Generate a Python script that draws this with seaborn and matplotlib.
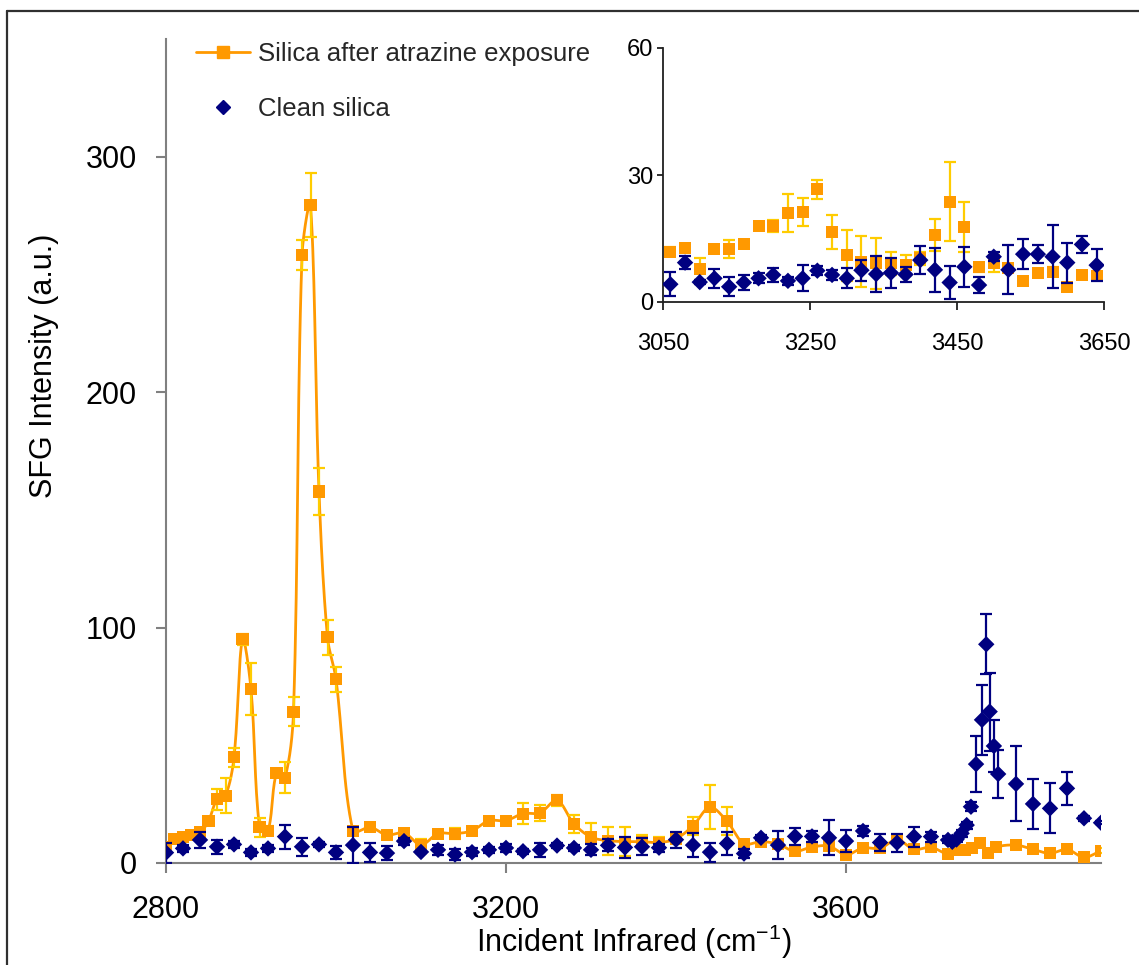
import numpy as np
import pandas as pd
import matplotlib
matplotlib.use("Agg")
import matplotlib.pyplot as plt
import seaborn as sns
from matplotlib.lines import Line2D

sns.set_theme(style="white")
plt.rcParams['font.family'] = ['Liberation Sans', 'DejaVu Sans']
plt.rcParams['mathtext.default'] = 'regular'

# ---- Silica after atrazine exposure ----
atz_wn = [2800, 2810, 2820, 2830, 2840, 2850, 2860, 2870, 2880, 2890, 2900,
          2910, 2920, 2930, 2940, 2950, 2960, 2970, 2980, 2990, 3000,
          3020, 3040, 3060, 3080, 3100, 3120, 3140, 3160, 3180, 3200,
          3220, 3240, 3260, 3280, 3300, 3320, 3340, 3360, 3380, 3400,
          3420, 3440, 3460, 3480, 3500, 3520, 3540, 3560, 3580, 3600,
          3620, 3640, 3660, 3680, 3700, 3720, 3730, 3740, 3748, 3758,
          3767, 3777, 3800, 3820, 3840, 3860, 3880, 3900]
atz_int = [6.9, 10.0, 10.9, 12.0, 13.0, 17.8, 27.0, 28.6, 44.9, 95.0, 73.8,
           15.2, 13.7, 38.1, 36.3, 64.3, 258.1, 279.4, 157.8, 95.8, 78.0,
           13.6, 15.2, 11.9, 12.8, 7.7, 12.5, 12.5, 13.7, 18.0, 18.0,
           21.0, 21.3, 26.6, 16.6, 11.0, 9.5, 9.1, 9.1, 8.7, 10.3,
           15.8, 23.7, 17.7, 8.2, 9.1, 8.0, 5.0, 6.8, 7.2, 3.5,
           6.4, 6.2, 10.0, 5.8, 6.7, 3.8, 5.5, 5.5, 6.2, 8.6,
           4.2, 6.8, 7.6, 5.8, 4.1, 5.8, 2.4, 5.2]
atz_err = [1.0, 1.0, 0.8, 0.8, 1.0, 1.2, 4.5, 7.5, 4.1, 2.2, 11.1,
           4.1, 2.0, 1.5, 6.7, 6.0, 6.4, 13.6, 9.8, 7.3, 5.2,
           1.5, 1.5, 1.0, 1.0, 2.6, 0.8, 2.2, 1.0, 0.6, 1.4,
           4.5, 3.3, 2.2, 4.0, 6.0, 6.0, 6.0, 2.8, 2.4, 1.5,
           3.8, 9.4, 5.9, 1.0, 2.0, 1.0, 0.7, 1.0, 1.0, 0.8,
           0.8, 1.0, 1.0, 1.0, 1.0, 1.0, 1.0, 1.0, 1.0, 1.0,
           1.0, 1.0, 1.0, 1.0, 0.8, 1.0, 0.8, 1.0]

# ---- Clean silica ----
cln_wn = [2800, 2820, 2840, 2860, 2880, 2900, 2920, 2940, 2960, 2980, 3000,
          3020, 3040, 3060, 3080, 3100, 3120, 3140, 3160, 3180, 3200,
          3220, 3240, 3260, 3280, 3300, 3320, 3340, 3360, 3380, 3400,
          3420, 3440, 3460, 3480, 3500, 3520, 3540, 3560, 3580, 3600,
          3620, 3640, 3660, 3680, 3700,
          3720, 3725, 3730, 3736, 3742, 3747, 3753, 3760, 3765, 3769,
          3774, 3779, 3800, 3820, 3840, 3860, 3880, 3900]
cln_int = [4.4, 6.2, 9.8, 6.9, 7.9, 4.5, 6.2, 11.2, 6.9, 7.9, 4.5,
           7.6, 4.5, 4.2, 9.3, 4.7, 5.6, 3.6, 4.6, 5.6, 6.4,
           5.0, 5.6, 7.4, 6.4, 5.6, 7.5, 6.6, 6.9, 6.5, 9.9,
           7.6, 4.6, 8.3, 4.0, 10.7, 7.6, 11.3, 11.3, 10.7, 9.3,
           13.6, 8.7, 8.6, 11.2, 11.2,
           9.8, 9.0, 10.0, 12.6, 16.1, 23.9, 42.0, 60.8, 92.9, 64.3,
           49.7, 37.8, 33.6, 25.1, 23.2, 31.7, 19.0, 17.1]
cln_err = [4.3, 1.5, 3.4, 3.0, 1.5, 1.5, 1.5, 5.1, 3.9, 1.0, 2.8,
           7.5, 3.9, 2.9, 1.5, 0.5, 2.2, 2.2, 1.7, 1.2, 1.7,
           1.0, 3.1, 1.0, 1.2, 2.4, 2.5, 4.3, 3.6, 1.7, 3.4,
           5.2, 4.0, 4.8, 1.8, 1.1, 5.8, 3.5, 2.2, 7.5, 4.7,
           2.1, 3.8, 3.8, 4.2, 2.1,
           1.5, 1.2, 1.2, 1.5, 1.5, 2.0, 11.9, 15.0, 12.7, 16.6,
           11.0, 10.4, 15.9, 10.7, 10.6, 7.1, 1.0, 0.6]

atz_label = "Silica after atrazine exposure"
cln_label = "Clean silica"

ORANGE = "#FF9900"
GOLD = "#FFCC00"
NAVY = "#000080"
AXIS_GREY = "#808080"

atz = pd.DataFrame({"wn": atz_wn, "I": atz_int, "err": atz_err})
cln = pd.DataFrame({"wn": cln_wn, "I": cln_int, "err": cln_err})

W, H = 1139, 965
fig = plt.figure(figsize=(W / 100, H / 100), dpi=100)


def fx(px):
    return px / W


def fy(py):
    return 1 - py / H


def smoothed(xs, ys, kx, ky, n=16):
    """Bezier-smoothed curve through the points; control arms are scaled by
    the on-screen segment lengths (kx, ky = pixels per data unit)."""
    x = np.asarray(xs, float) * kx
    y = np.asarray(ys, float) * ky
    px = np.concatenate([[x[0]], x, [x[-1]]])
    py = np.concatenate([[y[0]], y, [y[-1]]])
    seg = np.hypot(np.diff(px), np.diff(py))
    t = np.linspace(0, 1, n + 1)[1:]
    ox, oy = [x[0]], [y[0]]
    for i in range(len(x) - 1):
        j = i + 1
        tx1, ty1 = px[j + 1] - px[j - 1], py[j + 1] - py[j - 1]
        tx2, ty2 = px[j + 2] - px[j], py[j + 2] - py[j]
        L0, L1, L2 = seg[j - 1], seg[j], seg[j + 1]
        f1 = L1 / (L0 + L1) / 3 if (L0 + L1) > 0 else 0
        f2 = L1 / (L1 + L2) / 3 if (L1 + L2) > 0 else 0
        x1, y1, x2, y2 = px[j], py[j], px[j + 1], py[j + 1]
        cx1, cy1 = x1 + tx1 * f1, y1 + ty1 * f1
        cx2, cy2 = x2 - tx2 * f2, y2 - ty2 * f2
        a, b, c, d = (1 - t) ** 3, 3 * (1 - t) ** 2 * t, 3 * (1 - t) * t ** 2, t ** 3
        ox.extend(a * x1 + b * cx1 + c * cx2 + d * x2)
        oy.extend(a * y1 + b * cy1 + c * cy2 + d * y2)
    return np.array(ox) / kx, np.array(oy) / ky


# outer chart frame (left and top edges)
fig.add_artist(Line2D([fx(7), fx(7)], [fy(11), 0], transform=fig.transFigure,
                      color="#303030", lw=1.6))
fig.add_artist(Line2D([fx(7), 1], [fy(11), fy(11)], transform=fig.transFigure,
                      color="#303030", lw=1.6))

# ---------------- main axes ----------------
ax = fig.add_axes([fx(166), fy(863), fx(1101) - fx(166), fy(39) - fy(863)])
ax.set_facecolor("none")
XMIN, XMAX, YMIN, YMAX = 2800, 3900, 0, 350
kx = (1101 - 166) / (XMAX - XMIN)
ky = (863 - 39) / (YMAX - YMIN)

sx, sy = smoothed(atz["wn"], atz["I"], kx, ky)
sns.lineplot(x=sx, y=sy, sort=False, estimator=None, color=ORANGE, lw=2.0,
             ax=ax, zorder=2, legend=False)
ax.errorbar(atz["wn"], atz["I"], yerr=atz["err"], fmt="none", ecolor=GOLD,
            elinewidth=1.6, capsize=4.5, capthick=1.6, zorder=2.5)
sns.scatterplot(data=atz, x="wn", y="I", marker="s", s=75, color=ORANGE,
                edgecolor="none", ax=ax, zorder=3, legend=False)

ax.errorbar(cln["wn"], cln["I"], yerr=cln["err"], fmt="none", ecolor=NAVY,
            elinewidth=1.6, capsize=4.5, capthick=1.6, zorder=4)
sns.scatterplot(data=cln, x="wn", y="I", marker="D", s=70, color=NAVY,
                edgecolor="none", ax=ax, zorder=5, legend=False)

ax.set_xlim(XMIN, XMAX)
ax.set_ylim(YMIN, YMAX)
ax.set_xticks([2800, 3200, 3600])
ax.set_yticks([0, 100, 200, 300])
for side in ("top", "right"):
    ax.spines[side].set_visible(False)
for side in ("left", "bottom"):
    ax.spines[side].set_color(AXIS_GREY)
    ax.spines[side].set_linewidth(1.5)
ax.tick_params(axis="both", which="major", direction="out", length=7,
               width=1.5, color=AXIS_GREY, labelsize=22, labelcolor="black")
ax.tick_params(axis="x", pad=16, bottom=True)
ax.tick_params(axis="y", pad=14, left=True)

ax.set_xlabel("Incident Infrared (cm$^{-1}$)", fontsize=22, color="black")
ax.set_ylabel("SFG Intensity (a.u.)", fontsize=22, color="black")
ax.xaxis.set_label_coords(0.5, -0.073)
ax.xaxis.label.set_va("top")
ax.yaxis.set_label_coords(-0.114, 0.603)

handles = [
    Line2D([], [], color=ORANGE, lw=2.0, marker="s", markersize=8.5,
           markeredgecolor=ORANGE),
    Line2D([], [], color=NAVY, lw=0, marker="D", markersize=7,
           markeredgecolor=NAVY),
]
fig.legend(handles, [atz_label, cln_label], loc="upper left",
           bbox_to_anchor=(fx(196), fy(42)), bbox_transform=fig.transFigure,
           frameon=False, fontsize=18.5, borderpad=0, borderaxespad=0,
           handlelength=2.1, handletextpad=0.3, labelspacing=1.2)

# ---------------- inset axes ----------------
ins = fig.add_axes([fx(663), fy(302), fx(1104) - fx(663), fy(48) - fy(302)])
ins.set_facecolor("none")
ins.errorbar(atz["wn"], atz["I"], yerr=atz["err"], fmt="none", ecolor=GOLD,
             elinewidth=1.6, capsize=4.5, capthick=1.6, zorder=2)
sns.scatterplot(data=atz, x="wn", y="I", marker="s", s=75, color=ORANGE,
                edgecolor="none", ax=ins, zorder=3, legend=False)
ins.errorbar(cln["wn"], cln["I"], yerr=cln["err"], fmt="none", ecolor=NAVY,
             elinewidth=1.6, capsize=4.5, capthick=1.6, zorder=4)
sns.scatterplot(data=cln, x="wn", y="I", marker="D", s=70, color=NAVY,
                edgecolor="none", ax=ins, zorder=5, legend=False)
ins.set_xlim(3050, 3650)
ins.set_ylim(0, 60)
ins.set_xticks([3050, 3250, 3450, 3650])
ins.set_yticks([0, 30, 60])
ins.set_xlabel("")
ins.set_ylabel("")
for side in ("top", "right"):
    ins.spines[side].set_visible(False)
for side in ("left", "bottom"):
    ins.spines[side].set_color("#202020")
    ins.spines[side].set_linewidth(1.3)
ins.tick_params(axis="both", direction="out", width=1.3, color="#202020",
                labelsize=17, labelcolor="black")
ins.tick_params(axis="x", length=6, pad=16, bottom=True)
ins.tick_params(axis="y", length=4, pad=3, left=True)

fig.savefig("out.png", dpi=100)
